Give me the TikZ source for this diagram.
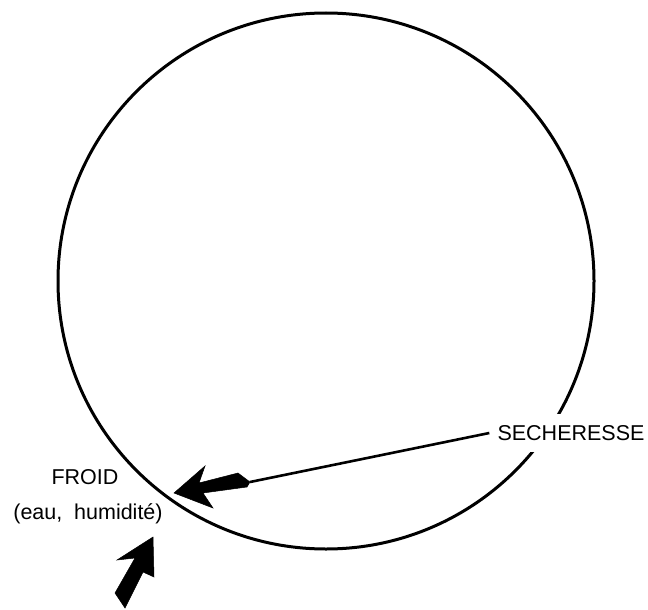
\documentclass[tikz,border=0pt]{standalone}
\usepackage{fontspec}
\setmainfont{Liberation Sans}
\begin{document}
\begin{tikzpicture}[x=1pt,y=-1pt,
  lbl/.style={font=\fontsize{21.5}{26}\selectfont, inner sep=0pt},
  head/.style={fill=black, draw=black, line width=0.5pt, line join=miter}]
\useasboundingbox (0,0) rectangle (648,610);
% circle
\node[draw=none, minimum size=0pt, inner sep=0pt] (c) at (326,281) {};
\draw[line width=3pt] (c) circle[radius=268];
% labels
\node[lbl, fill=white, inner xsep=8pt, minimum height=38pt] (sech) at (571,433) {SECHERESSE};
\node[lbl] (froid) at (85,477) {FROID};
\node[lbl] (eau) at (88,514) {(eau,\hspace{0.55em}humidité)};
% arrow from SECHERESSE
\coordinate (a1) at (250,482);
\draw[line width=2.6pt] (sech.west) -- (a1);
\fill[head] (174,493) -- (205,466) -- (199,483) -- (238,473) -- (a1) -- (247,487) -- (203,493) -- (213,508) -- cycle;
% arrow from below
\coordinate (a2) at (153,537);
\fill[head] (a2) -- (154,577) -- (143,572) -- (125,608) -- (115,593) -- (135,558) -- (117,560) -- cycle;
\end{tikzpicture}
\end{document}
